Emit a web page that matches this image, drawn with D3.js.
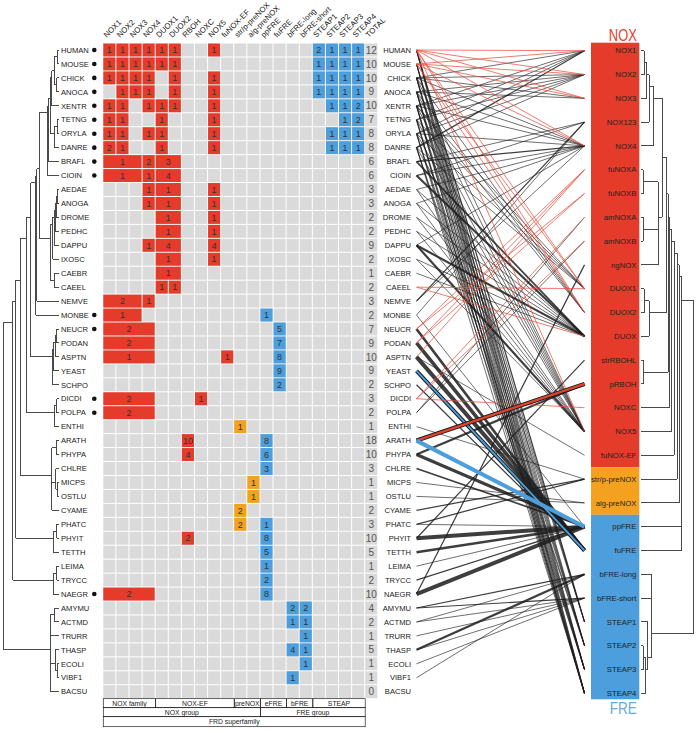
<!DOCTYPE html>
<html><head><meta charset="utf-8">
<script src="https://cdn.jsdelivr.net/npm/d3@7"></script>
<style>body{margin:0;background:#fff}svg{display:block;font-family:"Liberation Sans",Arial,Helvetica,sans-serif}</style>
</head><body><svg id="c" width="697" height="733"></svg>
<script>
// ---------------- DATA ----------------
const species = ["HUMAN","MOUSE","CHICK","ANOCA","XENTR","TETNG","ORYLA","DANRE","BRAFL","CIOIN",
 "AEDAE","ANOGA","DROME","PEDHC","DAPPU","IXOSC","CAEBR","CAEEL","NEMVE","MONBE",
 "NEUCR","PODAN","ASPTN","YEAST","SCHPO","DICDI","POLPA","ENTHI","ARATH","PHYPA",
 "CHLRE","MICPS","OSTLU","CYAME","PHATC","PHYIT","TETTH","LEIMA","TRYCC","NAEGR",
 "AMYMU","ACTMD","TRURR","THASP","ECOLI","VIBF1","BACSU"];
const dotted = ["HUMAN","MOUSE","CHICK","ANOCA","XENTR","TETNG","ORYLA","DANRE","BRAFL","CIOIN","MONBE","NEUCR","DICDI","POLPA","NAEGR"];
const columns = ["NOX1","NOX2","NOX3","NOX4","DUOX1","DUOX2","RBOH","NOXC","NOX5","fuNOX-EF",
 "str/p-preNOX","alg-preNOX","ppFRE","fuFRE","bFRE-long","bFRE-short","STEAP1","STEAP2","STEAP3","STEAP4","TOTAL"];
const columnType = ["N","N","N","N","N","N","N","N","N","N","P","P","F","F","F","F","F","F","F","F","T"];
// [species, first column, columns spanned, gene count]
const heat = [
["HUMAN","NOX1",1,1],["HUMAN","NOX2",1,1],["HUMAN","NOX3",1,1],["HUMAN","NOX4",1,1],["HUMAN","DUOX1",1,1],["HUMAN","DUOX2",1,1],["HUMAN","NOX5",1,1],["HUMAN","STEAP1",1,2],["HUMAN","STEAP2",1,1],["HUMAN","STEAP3",1,1],["HUMAN","STEAP4",1,1],
["MOUSE","NOX1",1,1],["MOUSE","NOX2",1,1],["MOUSE","NOX3",1,1],["MOUSE","NOX4",1,1],["MOUSE","DUOX1",1,1],["MOUSE","DUOX2",1,1],["MOUSE","STEAP1",1,1],["MOUSE","STEAP2",1,1],["MOUSE","STEAP3",1,1],["MOUSE","STEAP4",1,1],
["CHICK","NOX1",1,1],["CHICK","NOX2",1,1],["CHICK","NOX3",1,1],["CHICK","NOX4",1,1],["CHICK","DUOX2",1,1],["CHICK","NOX5",1,1],["CHICK","STEAP1",1,1],["CHICK","STEAP2",1,1],["CHICK","STEAP3",1,1],["CHICK","STEAP4",1,1],
["ANOCA","NOX2",1,1],["ANOCA","NOX3",1,1],["ANOCA","NOX4",1,1],["ANOCA","DUOX2",1,1],["ANOCA","NOX5",1,1],["ANOCA","STEAP1",1,1],["ANOCA","STEAP2",1,1],["ANOCA","STEAP3",1,1],["ANOCA","STEAP4",1,1],
["XENTR","NOX1",1,1],["XENTR","NOX2",1,1],["XENTR","NOX4",1,1],["XENTR","DUOX1",1,1],["XENTR","DUOX2",1,1],["XENTR","NOX5",1,1],["XENTR","STEAP2",1,1],["XENTR","STEAP3",1,1],["XENTR","STEAP4",1,2],
["TETNG","NOX1",1,1],["TETNG","NOX2",1,1],["TETNG","DUOX1",1,1],["TETNG","NOX5",1,1],["TETNG","STEAP3",1,1],["TETNG","STEAP4",1,2],
["ORYLA","NOX1",1,1],["ORYLA","NOX2",1,1],["ORYLA","NOX4",1,1],["ORYLA","DUOX1",1,1],["ORYLA","NOX5",1,1],["ORYLA","STEAP2",1,1],["ORYLA","STEAP3",1,1],["ORYLA","STEAP4",1,1],
["DANRE","NOX1",1,2],["DANRE","NOX2",1,1],["DANRE","DUOX1",1,1],["DANRE","NOX5",1,1],["DANRE","STEAP2",1,1],["DANRE","STEAP3",1,1],["DANRE","STEAP4",1,1],
["BRAFL","NOX1",3,1],["BRAFL","NOX4",1,2],["BRAFL","DUOX1",2,3],
["CIOIN","NOX1",3,1],["CIOIN","NOX4",1,1],["CIOIN","DUOX1",2,4],
["AEDAE","NOX4",1,1],["AEDAE","DUOX1",2,1],["AEDAE","NOX5",1,1],
["ANOGA","NOX4",1,1],["ANOGA","DUOX1",2,1],["ANOGA","NOX5",1,1],
["DROME","DUOX1",2,1],["DROME","NOX5",1,1],
["PEDHC","DUOX1",2,1],["PEDHC","NOX5",1,1],
["DAPPU","NOX4",1,1],["DAPPU","DUOX1",2,4],["DAPPU","NOX5",1,4],
["IXOSC","DUOX1",2,1],["IXOSC","NOX5",1,1],
["CAEBR","DUOX1",2,1],
["CAEEL","DUOX1",1,1],["CAEEL","DUOX2",1,1],
["NEMVE","NOX1",3,2],["NEMVE","NOX4",1,1],
["MONBE","NOX1",3,1],["MONBE","ppFRE",1,1],
["NEUCR","NOX1",4,2],["NEUCR","fuFRE",1,5],
["PODAN","NOX1",4,2],["PODAN","fuFRE",1,7],
["ASPTN","NOX1",4,1],["ASPTN","fuNOX-EF",1,1],["ASPTN","fuFRE",1,8],
["YEAST","fuFRE",1,9],
["SCHPO","fuFRE",1,2],
["DICDI","NOX1",4,2],["DICDI","NOXC",1,1],
["POLPA","NOX1",4,2],
["ENTHI","str/p-preNOX",1,1],
["ARATH","RBOH",1,10],["ARATH","ppFRE",1,8],
["PHYPA","RBOH",1,4],["PHYPA","ppFRE",1,6],
["CHLRE","ppFRE",1,3],
["MICPS","alg-preNOX",1,1],
["OSTLU","alg-preNOX",1,1],
["CYAME","str/p-preNOX",1,2],
["PHATC","str/p-preNOX",1,2],["PHATC","ppFRE",1,1],
["PHYIT","RBOH",1,2],["PHYIT","ppFRE",1,8],
["TETTH","ppFRE",1,5],
["LEIMA","ppFRE",1,1],
["TRYCC","ppFRE",1,2],
["NAEGR","NOX1",4,2],["NAEGR","ppFRE",1,8],
["AMYMU","bFRE-long",1,2],["AMYMU","bFRE-short",1,2],
["ACTMD","bFRE-long",1,1],["ACTMD","bFRE-short",1,1],
["TRURR","bFRE-short",1,1],
["THASP","bFRE-long",1,4],["THASP","bFRE-short",1,1],
["ECOLI","bFRE-short",1,1],
["VIBF1","bFRE-long",1,1]
];
const families = ["NOX1","NOX2","NOX3","NOX123","NOX4","fuNOXA","fuNOXB","amNOXA","amNOXB","ngNOX",
 "DUOX1","DUOX2","DUOX","strRBOHL","pRBOH","NOXC","NOX5","fuNOX-EF","str/p-preNOX","alg-preNOX",
 "ppFRE","fuFRE","bFRE-long","bFRE-short","STEAP1","STEAP2","STEAP3","STEAP4"];
const familyBlocks = [["NOX","NOX1","fuNOX-EF"],["preNOX","str/p-preNOX","alg-preNOX"],["FRE","ppFRE","STEAP4"]];
// [species, family, genes, colour key]  (k black, r red, b blue, ro/bo = outlined)
const links = [
["HUMAN","NOX1",1,"r"],["HUMAN","NOX2",1,"r"],["HUMAN","NOX3",1,"r"],["HUMAN","NOX4",1,"r"],["HUMAN","DUOX1",1,"r"],["HUMAN","DUOX2",1,"r"],["HUMAN","NOX5",1,"r"],["HUMAN","STEAP1",2,"k"],["HUMAN","STEAP2",1,"k"],["HUMAN","STEAP3",1,"k"],["HUMAN","STEAP4",1,"k"],
["MOUSE","NOX1",1,"r"],["MOUSE","NOX2",1,"r"],["MOUSE","NOX3",1,"r"],["MOUSE","NOX4",1,"r"],["MOUSE","DUOX1",1,"r"],["MOUSE","DUOX2",1,"r"],["MOUSE","STEAP1",1,"k"],["MOUSE","STEAP2",1,"k"],["MOUSE","STEAP3",1,"k"],["MOUSE","STEAP4",1,"k"],
["CHICK","NOX1",1,"k"],["CHICK","NOX2",1,"k"],["CHICK","NOX3",1,"k"],["CHICK","NOX4",1,"k"],["CHICK","DUOX2",1,"k"],["CHICK","NOX5",1,"k"],["CHICK","STEAP1",1,"k"],["CHICK","STEAP2",1,"k"],["CHICK","STEAP3",1,"k"],["CHICK","STEAP4",1,"k"],
["ANOCA","NOX2",1,"k"],["ANOCA","NOX3",1,"k"],["ANOCA","NOX4",1,"k"],["ANOCA","DUOX2",1,"k"],["ANOCA","NOX5",1,"k"],["ANOCA","STEAP1",1,"k"],["ANOCA","STEAP2",1,"k"],["ANOCA","STEAP3",1,"k"],["ANOCA","STEAP4",1,"k"],
["XENTR","NOX1",1,"k"],["XENTR","NOX2",1,"k"],["XENTR","NOX4",1,"k"],["XENTR","DUOX1",1,"k"],["XENTR","DUOX2",1,"k"],["XENTR","NOX5",1,"k"],["XENTR","STEAP2",1,"k"],["XENTR","STEAP3",1,"k"],["XENTR","STEAP4",2,"k"],
["TETNG","NOX1",1,"k"],["TETNG","NOX2",1,"k"],["TETNG","DUOX1",1,"k"],["TETNG","NOX5",1,"k"],["TETNG","STEAP3",1,"k"],["TETNG","STEAP4",2,"k"],
["ORYLA","NOX1",1,"k"],["ORYLA","NOX2",1,"k"],["ORYLA","NOX4",1,"k"],["ORYLA","DUOX1",1,"k"],["ORYLA","NOX5",1,"k"],["ORYLA","STEAP2",1,"k"],["ORYLA","STEAP3",1,"k"],["ORYLA","STEAP4",1,"k"],
["DANRE","NOX1",2,"k"],["DANRE","NOX2",1,"k"],["DANRE","DUOX1",1,"k"],["DANRE","NOX5",1,"k"],["DANRE","STEAP2",1,"k"],["DANRE","STEAP3",1,"k"],["DANRE","STEAP4",1,"k"],
["BRAFL","NOX123",1,"k"],["BRAFL","NOX4",2,"k"],["BRAFL","DUOX",3,"k"],
["CIOIN","NOX123",1,"k"],["CIOIN","NOX4",1,"k"],["CIOIN","DUOX",4,"k"],
["AEDAE","NOX4",1,"k"],["AEDAE","DUOX",1,"k"],["AEDAE","NOX5",1,"k"],
["ANOGA","NOX4",1,"k"],["ANOGA","DUOX",1,"k"],["ANOGA","NOX5",1,"k"],
["DROME","DUOX",1,"k"],["DROME","NOX5",1,"k"],
["PEDHC","DUOX",1,"k"],["PEDHC","NOX5",1,"k"],
["DAPPU","NOX4",1,"k"],["DAPPU","DUOX",4,"k"],["DAPPU","NOX5",4,"k"],
["IXOSC","DUOX",1,"k"],["IXOSC","NOX5",1,"k"],
["CAEBR","DUOX",1,"k"],
["CAEEL","DUOX1",1,"r"],["CAEEL","DUOX",1,"r"],
["NEMVE","NOX123",2,"k"],["NEMVE","NOX4",1,"k"],
["MONBE","NOX123",1,"k"],["MONBE","ppFRE",1,"k"],
["NEUCR","fuNOXA",1,"r"],["NEUCR","fuNOXB",1,"r"],["NEUCR","fuFRE",5,"k"],
["PODAN","fuNOXA",1,"r"],["PODAN","fuNOXB",1,"r"],["PODAN","fuFRE",7,"k"],
["ASPTN","fuNOXA",1,"r"],["ASPTN","fuNOX-EF",1,"k"],["ASPTN","fuFRE",8,"k"],
["YEAST","fuFRE",9,"bo"],
["SCHPO","fuFRE",2,"k"],
["DICDI","amNOXA",1,"r"],["DICDI","amNOXB",1,"r"],["DICDI","NOXC",1,"r"],
["POLPA","amNOXA",1,"k"],["POLPA","amNOXB",1,"k"],
["ENTHI","str/p-preNOX",1,"k"],
["ARATH","pRBOH",10,"ro"],["ARATH","ppFRE",8,"b"],
["PHYPA","pRBOH",4,"k"],["PHYPA","ppFRE",6,"k"],
["CHLRE","ppFRE",3,"k"],
["MICPS","alg-preNOX",1,"k"],
["OSTLU","alg-preNOX",1,"k"],
["CYAME","str/p-preNOX",2,"k"],
["PHATC","str/p-preNOX",2,"k"],["PHATC","ppFRE",1,"k"],
["PHYIT","strRBOHL",2,"k"],["PHYIT","ppFRE",8,"k"],
["TETTH","ppFRE",5,"k"],
["LEIMA","ppFRE",1,"k"],
["TRYCC","ppFRE",2,"k"],
["NAEGR","ngNOX",2,"k"],["NAEGR","ppFRE",8,"k"],
["AMYMU","bFRE-long",2,"k"],["AMYMU","bFRE-short",2,"k"],
["ACTMD","bFRE-long",1,"k"],["ACTMD","bFRE-short",1,"k"],
["TRURR","bFRE-short",1,"k"],
["THASP","bFRE-long",4,"k"],["THASP","bFRE-short",1,"k"],
["ECOLI","bFRE-short",1,"k"],
["VIBF1","bFRE-long",1,"k"]
];
// group boxes below the heat map: [label, first column, span]
const groupRow1 = [["NOX family","NOX1",4],["NOX-EF","DUOX1",6],["preNOX","str/p-preNOX",2],["eFRE","ppFRE",2],["bFRE","bFRE-long",2],["STEAP","STEAP1",4]];
const groupRow2 = [["NOX group","NOX1",12],["FRE group","ppFRE",8]];
const groupRow3 = [["FRD superfamily","NOX1",20]];
// species tree (node label = node depth, 0 = root ... 100 = tips)
const treeVert = "((((HUMAN,MOUSE)97,(CHICK,ANOCA)96)91.5,XENTR)87,((TETNG,ORYLA)97,DANRE)91.5)84";
const treeEcdy = "((((((AEDAE,ANOGA)97,DROME)95,PEDHC)93,DAPPU)91,IXOSC)89,(CAEBR,CAEEL)91)84";
const treeFungi = "((((NEUCR,PODAN)96,ASPTN)93,YEAST)90,SCHPO)88";
const treeAmoeb = "((DICDI,POLPA)96,ENTHI)91";
const treePlant = "((ARATH,PHYPA)95,(CHLRE,(MICPS,OSTLU)97)94,CYAME)87";
const treeChrom = "((PHATC,PHYIT)96,TETTH)90";
const treeExcav = "((LEIMA,TRYCC)96,NAEGR)90";
const treeBact = "((AMYMU,ACTMD)91,TRURR,(THASP,(ECOLI,VIBF1)97)93,BACSU)84";
const speciesTree = "((((((((((("+treeVert+",BRAFL)81,CIOIN)79.5,"+treeEcdy+")64,NEMVE)60,MONBE)58,"+treeFungi+")49,"+treeAmoeb+")42,"+treePlant+")30,"+treeChrom+")22.5,"+treeExcav+")16.6,"+treeBact+")0";
// family tree (node label = height, 0 = tips ... 100 = root)
const famNOX = "(((((NOX1,NOX2)6.3,NOX3)10.9,NOX123)15.8,NOX4)23.4,((fuNOXA,fuNOXB)4.4,(amNOXA,amNOXB)4.4,ngNOX)33)40";
const famCore = "((("+famNOX+",((DUOX1,DUOX2)6,DUOX)15.8)49,(strRBOHL,pRBOH)4.4)52,NOXC)55.2";
const famFRD = "((((("+famCore+",NOX5)59,fuNOX-EF)62.9,str/p-preNOX)68.6,alg-preNOX)72.4,ppFRE,fuFRE)78";
const famB = "(bFRE-long,bFRE-short,(STEAP1,((STEAP2,STEAP3)4.4,STEAP4)9)13.3)20.4";
const familyTree = "("+famFRD+","+famB+")100";

// ---------------- DRAWING ----------------
const RED="#E53B2B", ORANGE="#F4A11F", BLUE="#4C9EDC", GREY="#DADADA";
const svg = d3.select("#c");
const fill = {N:RED,P:ORANGE,F:BLUE,T:GREY};

const yS = d3.scalePoint().domain(species).range([50,691.7]);
const rs = yS.step();
const xC = d3.scaleBand().domain(columns).range([103.3,378.3]);
const cw = xC.step();
const yF = d3.scalePoint().domain(families).range([50.7,693.3]);

function parseTree(s){
  let i=0;
  function node(){
    if(s[i]==="("){
      i++; const c=[];
      while(i<s.length){ c.push(node()); if(s[i]===","){i++;continue;} i++; break; }
      let num=""; while(i<s.length && /[0-9.]/.test(s[i])) num+=s[i++];
      return {c, h:+num};
    }
    let name=""; while(i<s.length && !/[,()]/.test(s[i])) name+=s[i++];
    return {name};
  }
  return node();
}
function drawTree(str, yScale, xScale, tipH, g){
  const root = d3.hierarchy(parseTree(str), d=>d.c);
  root.eachAfter(n=>{
    if(!n.children){ n.y0=yScale(n.data.name); n.x0=xScale(tipH); }
    else { n.y0=d3.mean(n.leaves(), l=>yScale(l.data.name)); n.x0=xScale(n.data.h); }
  });
  root.each(n=>{
    if(!n.children) return;
    const ys=n.children.map(c=>c.y0);
    g.append("line").attr("x1",n.x0).attr("x2",n.x0).attr("y1",d3.min(ys)).attr("y2",d3.max(ys));
    n.children.forEach(c=>g.append("line").attr("x1",n.x0).attr("x2",c.x0).attr("y1",c.y0).attr("y2",c.y0));
  });
}
// species tree
drawTree(speciesTree, yS, d3.scaleLinear().domain([0,100]).range([3.5,59]), 100,
  svg.append("g").attr("stroke","#4a4a4a").attr("stroke-width",1).attr("shape-rendering","crispEdges"));

// species labels + dots
svg.append("g").selectAll("text").data(species).join("text")
  .attr("x",61).attr("y",d=>yS(d)).attr("dy","0.36em").attr("font-size",7.6).attr("fill","#222").text(d=>d);
svg.append("g").selectAll("circle").data(dotted).join("circle")
  .attr("cx",94.3).attr("cy",d=>yS(d)).attr("r",2.3).attr("fill","#111");

// heat map background
const hg = svg.append("g");
species.forEach(s=>columns.forEach(c=>{
  hg.append("rect").attr("x",xC(c)).attr("y",yS(s)-rs/2+0.5).attr("width",cw-1).attr("height",rs-1).attr("fill",GREY);
}));
heat.forEach(([s,c,span,v])=>{
  const x=xC(c), w=span*cw-1, t=columnType[columns.indexOf(c)];
  hg.append("rect").attr("x",x).attr("y",yS(s)-rs/2+0.5).attr("width",w).attr("height",rs-1).attr("fill",fill[t]);
  hg.append("text").attr("x",x+w/2).attr("y",yS(s)).attr("dy","0.36em").attr("text-anchor","middle")
    .attr("font-size",9).attr("fill","#333").text(v);
});
// totals
const totals = d3.rollup(heat, v=>d3.sum(v,d=>d[3]), d=>d[0]);
species.forEach(s=>{
  hg.append("text").attr("x",xC("TOTAL")+cw/2-0.5).attr("y",yS(s)).attr("dy","0.36em").attr("text-anchor","middle")
    .attr("font-size",10).attr("fill","#555").text(totals.get(s)||0);
});
// column labels
svg.append("g").selectAll("text").data(columns).join("text")
  .attr("transform",d=>`translate(${xC(d)+cw/2-3},38) rotate(-45)`)
  .attr("font-size",7.8).attr("fill","#222").text(d=>d);

// group table
const tg = svg.append("g");
const tTop = yS(species[species.length-1])+rs/2;
[[groupRow1,9],[groupRow2,9],[groupRow3,10]].reduce((y,[row,h])=>{
  row.forEach(([lab,c,span])=>{
    const x=xC(c), w=span*cw;
    tg.append("rect").attr("x",x).attr("y",y).attr("width",w).attr("height",h)
      .attr("fill","none").attr("stroke","#222").attr("stroke-width",0.7);
    tg.append("text").attr("x",x+w/2).attr("y",y+h/2).attr("dy","0.36em").attr("text-anchor","middle")
      .attr("font-size",6.8).attr("fill","#222").text(lab);
  });
  return y+h;
}, tTop);

// right-side species labels
svg.append("g").selectAll("text").data(species).join("text")
  .attr("x",411).attr("y",d=>yS(d)).attr("dy","0.36em").attr("text-anchor","end")
  .attr("font-size",7.6).attr("fill","#222").text(d=>d);

// links
const lx0=416.5, lx1=584.5;
const wS = d3.scaleLinear().domain([1,10]).range([0.75,5]);
const linkCol = {k:"#1c1c1c", r:"#E8503F", b:"#4C9EDC", ro:"#E0442F", bo:"#4C9EDC"};
const lg = svg.append("g").attr("fill","none").attr("stroke-linecap","butt");
const ordered = links.filter(d=>d[3]==="k").concat(links.filter(d=>d[3]!=="k"));
ordered.forEach(([s,f,n,c])=>{
  const seg = lg.append("g");
  const outlined = c.length===2;
  const w = outlined ? wS(n)*0.85 : wS(n);
  if(outlined){
    seg.append("line").attr("x1",lx0).attr("y1",yS(s)).attr("x2",lx1).attr("y2",yF(f))
      .attr("stroke","#1c1c1c").attr("stroke-width",w);
  }
  seg.append("line").attr("x1",lx0).attr("y1",yS(s)).attr("x2",lx1).attr("y2",yF(f))
    .attr("stroke",linkCol[c]).attr("stroke-width",outlined ? w-2 : w).attr("stroke-opacity",c==="k"?0.85:1);
});

// family box
const bx0=591, bx1=639.3;
const fTop = yF(families[0])-8, fBot = yF(families[families.length-1])+6;
const fg = svg.append("g");
familyBlocks.forEach(([name,a,b],i)=>{
  const ia=families.indexOf(a), ib=families.indexOf(b);
  const y0 = ia===0 ? fTop : (yF(families[ia-1])+yF(a))/2;
  const y1 = ib===families.length-1 ? fBot : (yF(b)+yF(families[ib+1]))/2;
  fg.append("rect").attr("x",bx0).attr("y",y0).attr("width",bx1-bx0).attr("height",y1-y0)
    .attr("fill",[RED,ORANGE,BLUE][i]);
});
fg.selectAll("text").data(families).join("text")
  .attr("x",bx1-3).attr("y",d=>yF(d)).attr("dy","0.36em").attr("text-anchor","end")
  .attr("font-size",7.7).attr("fill","#222").text(d=>d);
svg.append("text").attr("x",bx1-2.5).attr("y",fTop-1.5).attr("text-anchor","end").attr("font-size",17)
  .attr("font-weight",300).attr("fill",RED).attr("textLength",28).attr("lengthAdjust","spacingAndGlyphs").text("NOX");
svg.append("text").attr("x",bx1-2.5).attr("y",fBot+14.5).attr("text-anchor","end").attr("font-size",17)
  .attr("font-weight",300).attr("fill","#62ABE2").attr("textLength",27).attr("lengthAdjust","spacingAndGlyphs").text("FRE");

// family tree
drawTree(familyTree, yF, d3.scaleLinear().domain([0,100]).range([641,693.5]), 0,
  svg.append("g").attr("stroke","#4a4a4a").attr("stroke-width",1).attr("shape-rendering","crispEdges"));
</script></body></html>
